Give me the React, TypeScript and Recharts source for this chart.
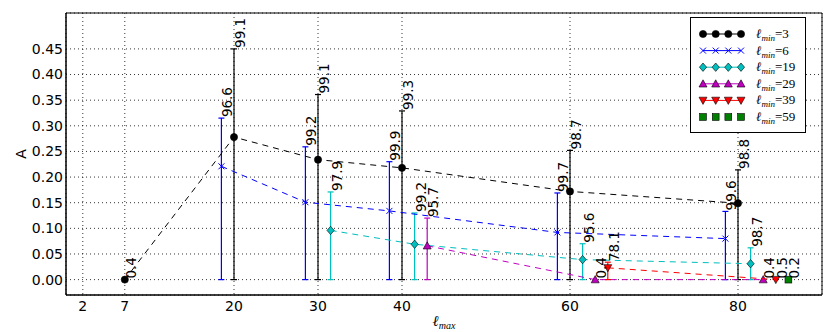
import React from 'react';
import { ComposedChart, Scatter, XAxis, YAxis, CartesianGrid, ErrorBar, Legend } from 'recharts';

const xTicks = [2, 7, 20, 30, 40, 60, 80];
const yTicks = [0, 0.05, 0.1, 0.15, 0.2, 0.25, 0.3, 0.35, 0.4, 0.45];

// l_min = 3
const x3 = [7, 20, 30, 40, 60, 80];
const a3 = [0, 0.278, 0.234, 0.218, 0.172, 0.149];
const top3 = [null, 0.45, 0.361, 0.329, 0.252, 0.214];
const lab3 = ['0.4', '99.1', '99.1', '99.3', '98.7', '98.8'];

// l_min = 6
const x6 = [18.5, 28.5, 38.5, 58.5, 78.5];
const a6 = [0.221, 0.151, 0.134, 0.092, 0.08];
const top6 = [0.315, 0.259, 0.23, 0.169, 0.133];
const lab6 = ['96.6', '99.2', '99.9', '99.7', '99.6'];

// l_min = 19
const x19 = [31.5, 41.5, 61.5, 81.5];
const a19 = [0.096, 0.069, 0.039, 0.031];
const top19 = [0.171, 0.13, 0.07, 0.062];
const lab19 = ['97.9', '99.2', '95.6', '98.7'];

// l_min = 29
const x29 = [43, 63, 83];
const a29 = [0.066, 0, 0];
const top29 = [0.12, null, null];
const lab29 = ['95.7', '0.4', '0.4'];

// l_min = 39
const x39 = [64.5, 84.5];
const a39 = [0.023, 0];
const top39 = [0.034, null];
const lab39 = ['78.1', '0.5'];

// l_min = 59
const x59 = [86];
const a59 = [0];
const top59 = [null];
const lab59 = ['0.2'];

type Mk = 'o' | 'x' | 'D' | '^' | 'v' | 's';

const drawMarker = (m: Mk, cx: number, cy: number, color: string) => {
  switch (m) {
    case 'o':
      return <circle cx={cx} cy={cy} r={3.6} fill={color} stroke="#000" strokeWidth={0.6} />;
    case 'x':
      return (
        <g stroke={color} strokeWidth={1}>
          <line x1={cx - 3} y1={cy - 3} x2={cx + 3} y2={cy + 3} />
          <line x1={cx - 3} y1={cy + 3} x2={cx + 3} y2={cy - 3} />
        </g>
      );
    case 'D':
      return <polygon points={`${cx},${cy - 4.2} ${cx + 3.6},${cy} ${cx},${cy + 4.2} ${cx - 3.6},${cy}`} fill={color} stroke="#000" strokeWidth={0.6} />;
    case '^':
      return <polygon points={`${cx},${cy - 4} ${cx + 4},${cy + 3.2} ${cx - 4},${cy + 3.2}`} fill={color} stroke="#000" strokeWidth={0.6} />;
    case 'v':
      return <polygon points={`${cx},${cy + 4} ${cx + 4},${cy - 3.2} ${cx - 4},${cy - 3.2}`} fill={color} stroke="#000" strokeWidth={0.6} />;
    default:
      return <rect x={cx - 3.4} y={cy - 3.4} width={6.8} height={6.8} fill={color} stroke="#000" strokeWidth={0.6} />;
  }
};

const series = [
  { name: '3', color: '#000000', mk: 'o' as Mk, xs: x3, ys: a3, tops: top3, labels: lab3, line: true },
  { name: '6', color: '#0000ff', mk: 'x' as Mk, xs: x6, ys: a6, tops: top6, labels: lab6, line: true },
  { name: '19', color: '#00bfbf', mk: 'D' as Mk, xs: x19, ys: a19, tops: top19, labels: lab19, line: true },
  { name: '29', color: '#bf00bf', mk: '^' as Mk, xs: x29, ys: a29, tops: top29, labels: lab29, line: true },
  { name: '39', color: '#ff0000', mk: 'v' as Mk, xs: x39, ys: a39, tops: top39, labels: lab39, line: true },
  { name: '59', color: '#008000', mk: 's' as Mk, xs: x59, ys: a59, tops: top59, labels: lab59, line: false },
];

const tables = series.map((s) => ({
  ...s,
  points: s.xs.map((x, i) => ({
    x,
    y: s.ys[i],
    err: s.tops[i] == null ? null : [s.ys[i], (s.tops[i] as number) - s.ys[i]],
  })),
  textPoints: s.xs.map((x, i) => ({
    x,
    y: s.tops[i] == null ? s.ys[i] : s.tops[i],
    text: s.labels[i],
  })),
}));

const font = '"DejaVu Sans", sans-serif';

const LegendBox = () => {
  const rowY = (i: number) => 17 + i * 16.6;
  const mx = [13, 25.7, 38.3, 51];
  return (
    <div style={{ width: 116, height: 116, border: '1px solid #000', background: '#fff', boxSizing: 'border-box' }}>
      <svg width={114} height={114} style={{ display: 'block' }}>
        {series.map((s, i) => (
          <g key={s.name}>
            {s.line && <line x1={mx[0] - 1} y1={rowY(i) - 1} x2={mx[3] - 1} y2={rowY(i) - 1} stroke={s.color} strokeWidth={1} />}
            {mx.map((x) => (
              <g key={x}>{drawMarker(s.mk, x - 1, rowY(i) - 1, s.color)}</g>
            ))}
            <text x={65} y={rowY(i) + 3} fontFamily='"Liberation Serif", serif' fontSize={13}>
              <tspan fontStyle="italic">ℓ</tspan>
              <tspan fontStyle="italic" fontSize={9} dy={3}>min</tspan>
              <tspan dy={-3}>={s.name}</tspan>
            </text>
          </g>
        ))}
      </svg>
    </div>
  );
};

const App: React.FC = () => {
  return (
    <div style={{ position: 'absolute', left: 0, top: 0, width: 830, height: 332, background: '#fff' }}>
      <ComposedChart width={830} height={332} margin={{ top: 13, right: 8, left: 10, bottom: 7 }}>
        <CartesianGrid stroke="#000" strokeDasharray="1 3" strokeWidth={0.8} />
        <XAxis
          xAxisId={0}
          dataKey="x"
          type="number"
          domain={[0, 90]}
          ticks={xTicks}
          allowDataOverflow
          height={30}
          tickLine={false}
          tickSize={4}
          tickMargin={2}
          stroke="#000"
          tick={{ fill: '#000', fontSize: 14, fontFamily: font }}
          label={(p: any) => (
            <text x={p.viewBox.x + p.viewBox.width / 2} y={326} textAnchor="middle" fontFamily='"Liberation Serif", serif' fontSize={15} fill="#000">
              <tspan fontStyle="italic">ℓ</tspan>
              <tspan fontStyle="italic" fontSize={10} dy={3}>max</tspan>
            </text>
          )}
        />
        <XAxis xAxisId="tt" orientation="top" mirror dataKey="x" type="number" domain={[0, 90]} ticks={xTicks} allowDataOverflow tick={false} tickSize={4} stroke="#000" />
        <XAxis xAxisId="bt" orientation="bottom" mirror dataKey="x" type="number" domain={[0, 90]} ticks={xTicks} allowDataOverflow tick={false} tickSize={4} stroke="#000" />
        <YAxis
          yAxisId={0}
          dataKey="y"
          type="number"
          domain={[-0.03, 0.52]}
          ticks={yTicks}
          allowDataOverflow
          width={56}
          tickLine={false}
          tickSize={3}
          tickMargin={0}
          stroke="#000"
          tickFormatter={(v: number) => v.toFixed(2)}
          tick={{ fill: '#000', fontSize: 14, fontFamily: font }}
          label={() => (
            <text x={26} y={154} transform="rotate(-90 26 154)" textAnchor="middle" fontFamily={font} fontSize={14} fill="#000">
              A
            </text>
          )}
        />
        <YAxis yAxisId="lt" orientation="left" mirror dataKey="y" type="number" domain={[-0.03, 0.52]} ticks={yTicks} allowDataOverflow tick={false} tickSize={4} stroke="#000" />
        <YAxis yAxisId="rt" orientation="right" mirror dataKey="y" type="number" domain={[-0.03, 0.52]} ticks={yTicks} allowDataOverflow tick={false} tickSize={4} stroke="#000" />

        {tables.map((s) => (
          <Scatter
            key={s.name}
            name={`lmin=${s.name}`}
            data={s.points}
            fill={s.color}
            stroke={s.color}
            line={s.line ? { stroke: s.color, strokeWidth: 1, strokeDasharray: '6 5' } : false}
            lineType="joint"
            isAnimationActive={false}
            shape={(p: any) => drawMarker(s.mk, p.cx, p.cy, s.color)}
          >
            <ErrorBar dataKey="err" direction="y" width={3} stroke={s.color} strokeWidth={1.2} isAnimationActive={false} />
          </Scatter>
        ))}

        {tables.map((s) => (
          <Scatter
            key={`t${s.name}`}
            data={s.textPoints}
            legendType="none"
            isAnimationActive={false}
            shape={(p: any) => (
              <text transform={`translate(${p.cx},${p.cy}) rotate(-90)`} x={1} y={11} fontFamily={font} fontSize={13.5} fill="#000">
                {p.payload.text}
              </text>
            )}
          />
        ))}

        <Legend
          layout="horizontal"
          verticalAlign="middle"
          align="center"
          wrapperStyle={{ left: 690, top: 17, width: 116, height: 116 }}
          content={() => <LegendBox />}
        />
      </ComposedChart>
    </div>
  );
};

export default App;
